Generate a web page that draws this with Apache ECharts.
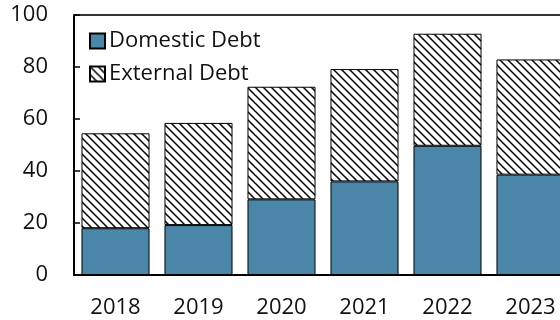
<!DOCTYPE html>
<html>
<head>
<meta charset="utf-8">
<script src="https://cdn.jsdelivr.net/npm/echarts@6/dist/echarts.min.js"></script>
<style>
  html, body { margin: 0; padding: 0; background: #fff; }
  #chart { width: 560px; height: 320px; }
</style>
</head>
<body>
<div id="chart"></div>
<script>
const years = ['2018', '2019', '2020', '2021', '2022', '2023']
const domesticDebt = [18.0, 19.2, 29.1, 36.0, 49.7, 38.6]
const externalDebt = [36.5, 39.3, 43.3, 43.2, 43.1, 44.3]
const yTicks = { min: 0, max: 100, interval: 20 }

// diagonal hatch for the external debt bars
function makeHatch() {
  const c = document.createElement('canvas')
  c.width = 8
  c.height = 8
  const ctx = c.getContext('2d')
  ctx.fillStyle = '#fff'
  ctx.fillRect(0, 0, 8, 8)
  ctx.strokeStyle = '#000'
  ctx.lineWidth = 1.5
  ctx.beginPath()
  ctx.moveTo(-2, -2)
  ctx.lineTo(10, 10)
  ctx.moveTo(-2, 6)
  ctx.lineTo(2, 10)
  ctx.moveTo(6, -2)
  ctx.lineTo(10, 2)
  ctx.stroke()
  return c
}

const font = '"Open Sans", sans-serif'
const myChart = echarts.init(document.getElementById('chart'))
const option = {
  animation: false,
  textStyle: { fontFamily: font },
  // plot runs past the right edge of the picture, as in the original
  grid: { left: 74, width: 498, top: 15, bottom: 45, outerBoundsMode: 'none', containLabel: false },
  legend: {
    left: 84,
    top: 25,
    orient: 'vertical',
    icon: 'rect',
    itemWidth: 15,
    itemHeight: 15,
    itemGap: 11,
    textStyle: { fontSize: 22, color: '#111', fontFamily: font, padding: [0, 0, 0, -1] },
    data: ['Domestic Debt', 'External Debt']
  },
  xAxis: [
    {
      type: 'category',
      data: years,
      axisLine: { lineStyle: { color: '#000', width: 2 } },
      axisTick: { inside: true, length: 8, lineStyle: { color: '#000', width: 1.5 } },
      axisLabel: { fontSize: 22, color: '#111', margin: 22 }
    },
    {
      type: 'category',
      position: 'top',
      data: years,
      axisLine: { lineStyle: { color: '#333', width: 2 } },
      axisTick: { show: false },
      axisLabel: { show: false }
    }
  ],
  yAxis: {
    type: 'value',
    min: yTicks.min,
    max: yTicks.max,
    interval: yTicks.interval,
    axisLine: { show: true, lineStyle: { color: '#000', width: 2 } },
    axisTick: { show: true, inside: true, length: 6, lineStyle: { color: '#000', width: 1.5 } },
    axisLabel: { fontSize: 22, color: '#111', margin: 26 },
    splitLine: { show: false }
  },
  series: [
    {
      name: 'Domestic Debt',
      type: 'bar',
      stack: 'debt',
      barCategoryGap: '18%',
      data: domesticDebt,
      itemStyle: { color: '#4a86a8', borderColor: '#000', borderWidth: 1 }
    },
    {
      name: 'External Debt',
      type: 'bar',
      stack: 'debt',
      data: externalDebt,
      itemStyle: {
        color: { image: makeHatch(), repeat: 'repeat' },
        borderColor: '#000',
        borderWidth: 1
      }
    }
  ]
}
myChart.setOption(option)
</script>
</body>
</html>
